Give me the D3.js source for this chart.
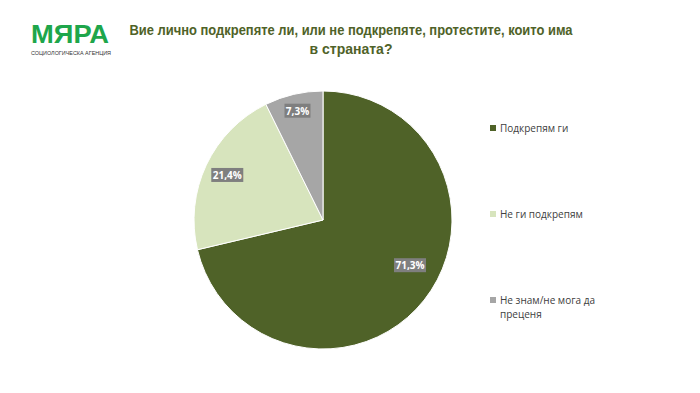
<!DOCTYPE html>
<html>
<head>
<meta charset="utf-8">
<script src="https://cdn.jsdelivr.net/npm/d3@7"></script>
<style>
  body { margin: 0; background: #fff; }
  svg { display: block; }
</style>
</head>
<body>
<svg></svg>
<script>
const w = 700;
const h = 393;

// data
const categories = ['Подкрепям ги', 'Не ги подкрепям', 'Не знам/не мога да преценя'];
const values = [71.3, 21.4, 7.3];
const labels = ['71,3%', '21,4%', '7,3%'];
const colors = ['#4f6228', '#d7e4bd', '#a6a6a6'];
const legendLines = [['Подкрепям ги'], ['Не ги подкрепям'], ['Не знам/не мога да', 'преценя']];

const svg = d3.select('svg')
  .attr('width', w)
  .attr('height', h);

// logo
svg.append('text')
  .attr('x', 31).attr('y', 43)
  .attr('font-family', 'Liberation Sans')
  .attr('font-weight', 'bold')
  .attr('font-size', 26)
  .attr('textLength', 78)
  .attr('lengthAdjust', 'spacingAndGlyphs')
  .attr('fill', '#1ea64b')
  .text('МЯРА');

svg.append('text')
  .attr('x', 31).attr('y', 54.5)
  .attr('font-family', 'Liberation Sans Narrow, Liberation Sans')
  .attr('font-size', 5.5)
  .attr('textLength', 80)
  .attr('lengthAdjust', 'spacingAndGlyphs')
  .attr('fill', '#333')
  .text('СОЦИОЛОГИЧЕСКА АГЕНЦИЯ');

// title
const title = svg.append('text')
  .attr('text-anchor', 'middle')
  .attr('font-family', 'Liberation Sans Narrow, Liberation Sans')
  .attr('font-weight', 'bold')
  .attr('font-size', 14)
  .attr('fill', '#4f6228');
title.append('tspan').attr('x', 351).attr('y', 35)
  .attr('textLength', 443).attr('lengthAdjust', 'spacingAndGlyphs')
  .text('Вие лично подкрепяте ли, или не подкрепяте, протестите, които има');
title.append('tspan').attr('x', 351).attr('y', 54)
  .text('в страната?');

// pie
const cx = 323, cy = 220, r = 129;
const labelPos = [0.76, 0.82, 0.87];
const labelTurn = [-0.19, 0, 0]; // radians, excel best-fit placement

const pie = d3.pie().sort(null).value(d => d);
const arcs = pie(values);
const arc = d3.arc().innerRadius(0).outerRadius(r);

const g = svg.append('g').attr('transform', `translate(${cx},${cy})`);

g.selectAll('path')
  .data(arcs)
  .enter()
  .append('path')
  .attr('d', arc)
  .attr('fill', (d, i) => colors[i])
  .attr('stroke', '#fff')
  .attr('stroke-width', 1);

// labels
const lab = g.selectAll('g.lab')
  .data(arcs)
  .enter()
  .append('g')
  .attr('class', 'lab')
  .attr('transform', (d, i) => {
    const lr = r * labelPos[i];
    const a = (d.startAngle + d.endAngle) / 2 + labelTurn[i];
    return `translate(${lr * Math.sin(a)},${-lr * Math.cos(a)})`;
  });

lab.append('rect')
  .attr('x', (d, i) => i === 2 ? -13 : -16)
  .attr('y', -7)
  .attr('width', (d, i) => i === 2 ? 26 : 32)
  .attr('height', 14)
  .attr('fill', '#7f7f7f');

lab.append('text')
  .attr('text-anchor', 'middle')
  .attr('dy', 4)
  .attr('font-family', 'Open Sans')
  .attr('font-weight', 'bold')
  .attr('font-size', 10)
  .attr('fill', '#fff')
  .text((d, i) => labels[i]);

// legend
const ly = d3.scalePoint().domain(categories).range([129, 301]);

const leg = svg.append('g').selectAll('g')
  .data(categories)
  .enter()
  .append('g')
  .attr('transform', d => `translate(490,${ly(d)})`);

leg.append('rect')
  .attr('x', 0).attr('y', -4)
  .attr('width', 6).attr('height', 6)
  .attr('fill', (d, i) => colors[i]);

leg.append('text')
  .attr('font-family', 'Open Sans')
  .attr('font-size', 10)
  .attr('fill', '#404040')
  .selectAll('tspan')
  .data((d, i) => legendLines[i])
  .enter()
  .append('tspan')
  .attr('x', 10)
  .attr('y', (d, j) => 3 + j * 14)
  .text(d => d);
</script>
</body>
</html>
